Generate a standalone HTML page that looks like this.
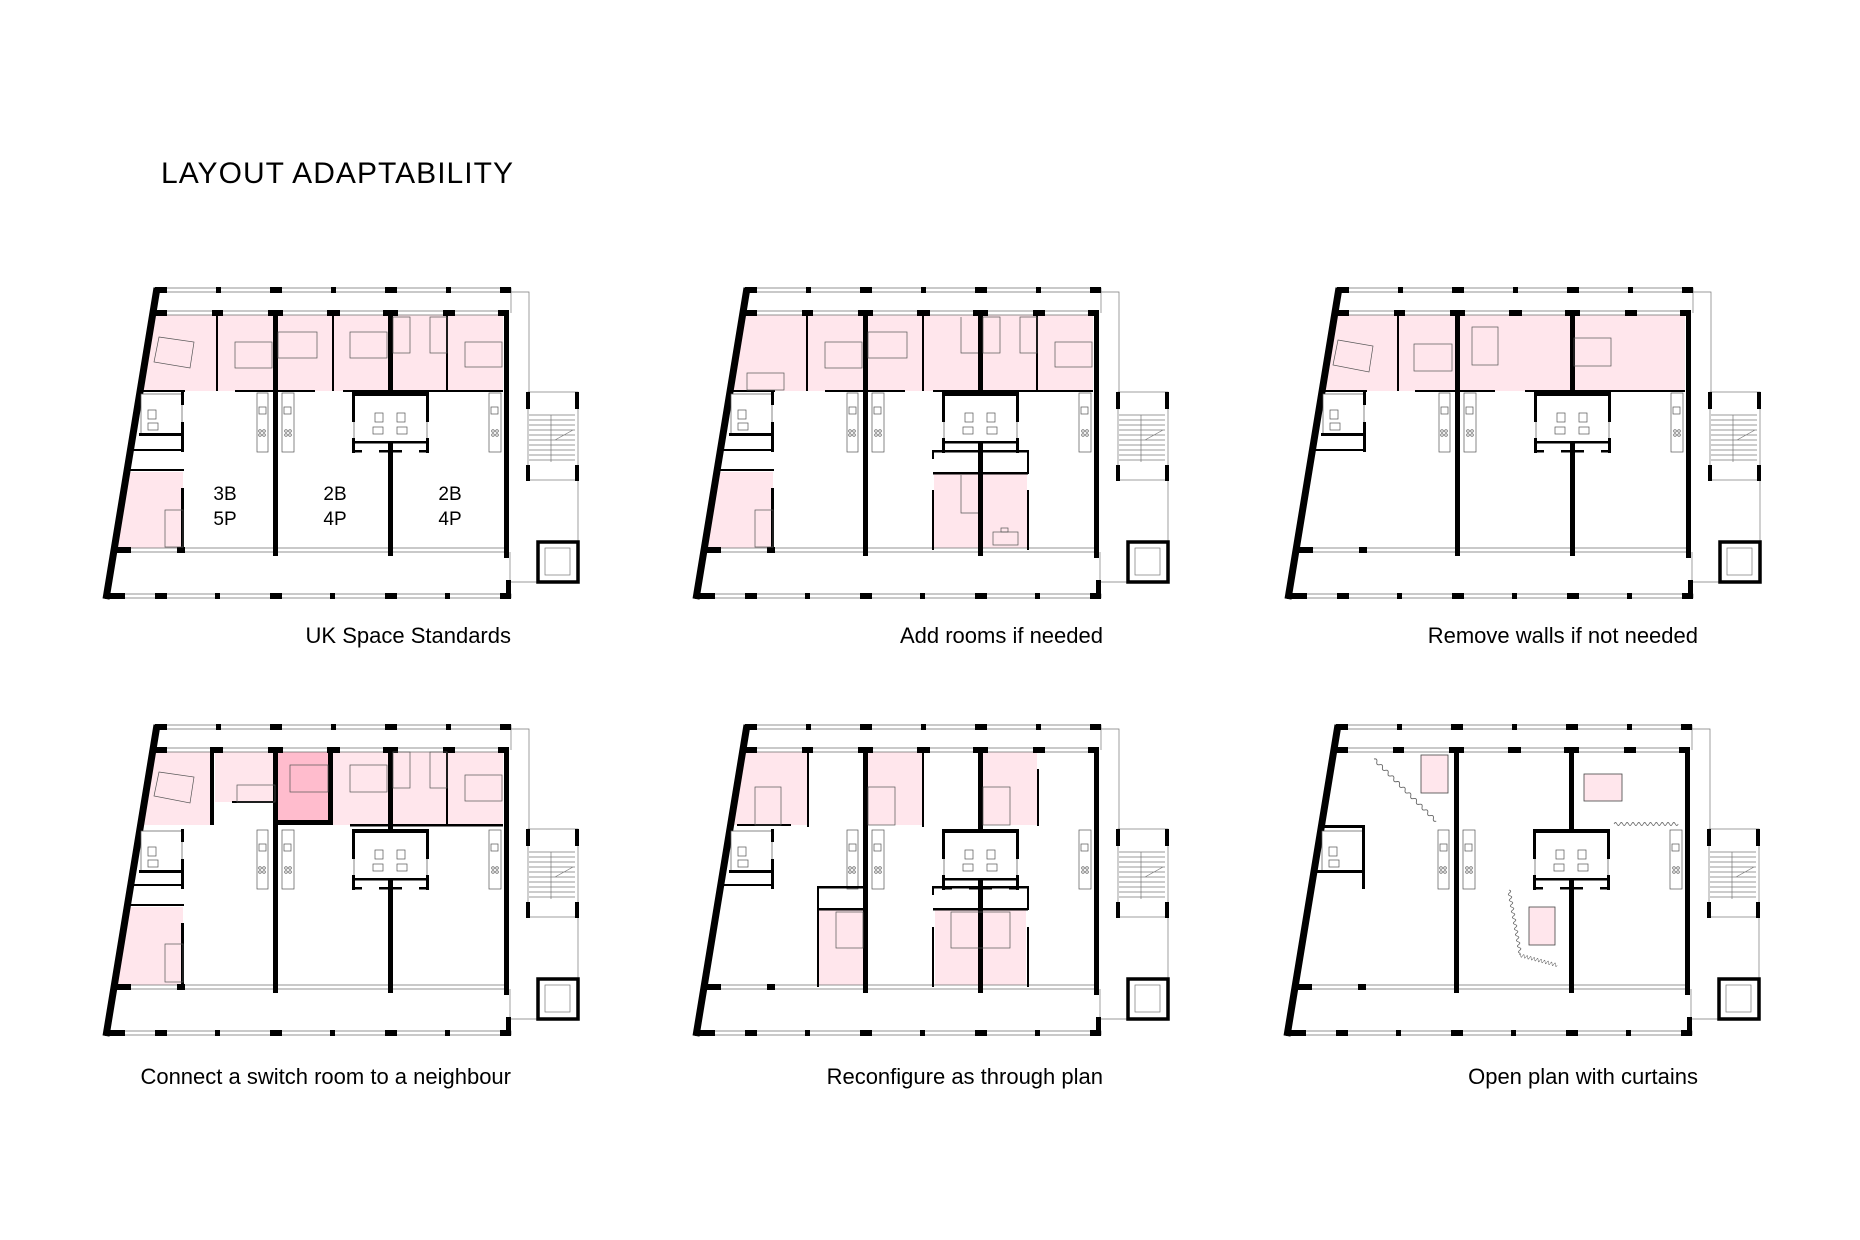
<!DOCTYPE html>
<html><head><meta charset="utf-8"><style>html,body{margin:0;padding:0;background:#fff}svg{display:block}</style></head>
<body>
<svg width="1860" height="1240" viewBox="0 0 1860 1240" xmlns="http://www.w3.org/2000/svg" font-family="Liberation Sans, Arial, sans-serif">
<defs>
<g id="shell">
  <g fill="#fff" stroke="#666" stroke-width="0.7">
    <rect x="62" y="8" width="354" height="4"/>
    <rect x="56" y="31" width="354" height="4"/>
    <rect x="22" y="268" width="389" height="4"/>
    <rect x="12" y="314" width="404" height="4"/>
  </g>
  <g fill="none" stroke="#777" stroke-width="0.7">
    <line x1="416" y1="10" x2="416" y2="33"/>
    <line x1="415" y1="272" x2="415" y2="316"/>
    <polyline points="416,12 434,12 434,112"/>
    <line x1="483" y1="200" x2="483" y2="262"/>
    <line x1="443" y1="302" x2="416" y2="302"/>
    <rect x="433" y="112" width="50" height="88"/>
    <rect x="450" y="268" width="25" height="27"/>
    <line x1="456" y1="135" x2="456" y2="182"/>
    <path d="M434 135H480M434 140H480M434 145H480M434 150H480M434 155H480M434 160H480M434 165H480M434 170H480M434 175H480M434 180H480M460 160L478 150"/>
  </g>
  <g fill="#000">
    <rect x="60" y="7" width="12" height="6"/><rect x="121" y="7" width="5" height="6"/><rect x="175" y="7" width="12" height="6"/><rect x="236" y="7" width="5" height="6"/><rect x="290" y="7" width="12" height="6"/><rect x="351" y="7" width="5" height="6"/><rect x="405" y="7" width="11" height="6"/>
    <rect x="60" y="30" width="12" height="6"/><rect x="117" y="30" width="11" height="6"/><rect x="173" y="30" width="15" height="6"/><rect x="232" y="30" width="13" height="6"/><rect x="288" y="30" width="15" height="6"/><rect x="348" y="30" width="12" height="6"/><rect x="403" y="30" width="10" height="6"/>
    <rect x="22" y="267" width="14" height="6"/><rect x="82" y="267" width="8" height="6"/>
    <rect x="10" y="313" width="20" height="6"/><rect x="60" y="313" width="12" height="6"/><rect x="120" y="313" width="5" height="6"/><rect x="175" y="313" width="12" height="6"/><rect x="235" y="313" width="5" height="6"/><rect x="290" y="313" width="12" height="6"/><rect x="350" y="313" width="5" height="6"/><rect x="405" y="313" width="11" height="6"/>
    <rect x="409" y="30" width="5" height="248"/>
    <rect x="411" y="300" width="5" height="19"/>
    <rect x="178" y="30" width="5" height="246"/>
    <rect x="293" y="30" width="5" height="246"/>
    <rect x="431" y="112" width="4" height="17"/><rect x="431" y="185" width="4" height="16"/>
    <rect x="480" y="112" width="4" height="17"/><rect x="480" y="185" width="4" height="16"/>
  </g>
  <line x1="62" y1="8" x2="11" y2="319" stroke="#000" stroke-width="7"/>
  <rect x="443" y="262" width="40" height="40" fill="none" stroke="#000" stroke-width="3.5"/>
  <g fill="#fff" stroke="#555" stroke-width="0.7">
    <rect x="162" y="113" width="11" height="59"/><rect x="187" y="113" width="12" height="59"/><rect x="394" y="113" width="12" height="59"/>
    <rect x="164" y="127" width="7" height="7"/><rect x="189" y="127" width="7" height="7"/><rect x="396" y="127" width="7" height="7"/>
    <g fill="none"><circle cx="165" cy="151" r="1.3"/><circle cx="169" cy="151" r="1.3"/><circle cx="165" cy="155" r="1.3"/><circle cx="169" cy="155" r="1.3"/>
    <circle cx="191" cy="151" r="1.3"/><circle cx="195" cy="151" r="1.3"/><circle cx="191" cy="155" r="1.3"/><circle cx="195" cy="155" r="1.3"/>
    <circle cx="398" cy="151" r="1.3"/><circle cx="402" cy="151" r="1.3"/><circle cx="398" cy="155" r="1.3"/><circle cx="402" cy="155" r="1.3"/></g>
  </g>
  <g fill="#fff" stroke="#555" stroke-width="0.7">
    <rect x="259" y="114" width="73" height="49"/>
    <rect x="280" y="133" width="8" height="9"/><rect x="278" y="147" width="10" height="7"/>
    <rect x="302" y="133" width="8" height="9"/><rect x="302" y="147" width="10" height="7"/>
  </g>
  <g fill="#000">
    <rect x="257" y="112" width="77" height="4"/>
    <rect x="257" y="112" width="3" height="30"/><rect x="257" y="158" width="3" height="15"/>
    <rect x="331" y="112" width="3" height="30"/><rect x="331" y="158" width="3" height="15"/>
    <rect x="257" y="161" width="77" height="2.5"/>
    <rect x="257" y="170" width="10" height="2.5"/><rect x="284" y="170" width="9" height="2.5"/><rect x="298" y="170" width="9" height="2.5"/><rect x="324" y="170" width="10" height="2.5"/>
  </g>
  <g fill="#fff" stroke="#555" stroke-width="0.7">
    <rect x="46" y="114" width="41" height="40"/>
    <rect x="53" y="130" width="8" height="9"/><rect x="53" y="143" width="10" height="7"/>
  </g>
  <g fill="#000">
    <rect x="44" y="153" width="45" height="3"/>
    <rect x="86" y="112" width="3" height="13"/><rect x="86" y="142" width="3" height="30"/>
  </g>
</g>
<path id="wave" d="M0 0q2 -3 4 0t4 0t4 0t4 0t4 0t4 0t4 0t4 0t4 0t4 0t4 0t4 0t4 0t4 0t4 0t4 0t4 0t4 0t4 0t4 0t4 0t4 0" fill="none" stroke="#666" stroke-width="0.9"/>
</defs>

<text x="161" y="183" font-size="30" textLength="352" fill="#000">LAYOUT ADAPTABILITY</text>

<g transform="translate(95,280)">
  <g fill="#ffe6ec">
    <polygon points="58,35 408,35 408,111 45,111"/>
    <polygon points="32,192 88,192 88,268 19,268"/>
  </g>
  <use href="#shell"/>
  <g fill="#000"><rect x="121" y="35" width="2" height="76"/><rect x="237" y="35" width="2" height="76"/><rect x="351" y="35" width="2" height="76"/>
    <rect x="45" y="110" width="45" height="2"/><rect x="140" y="110" width="80" height="2"/><rect x="248" y="110" width="160" height="2"/>
    <rect x="38" y="169" width="51" height="2"/><rect x="34" y="189" width="55" height="2"/><rect x="86" y="208" width="3" height="62"/></g>
  <g fill="none" stroke="#555" stroke-width="0.7">
    <polygon points="64,57 99,62 95,88 59,82"/><rect x="140" y="62" width="37" height="26"/><rect x="183" y="52" width="39" height="26"/><rect x="255" y="52" width="37" height="26"/>
    <rect x="298" y="37" width="17" height="36"/><rect x="335" y="37" width="17" height="36"/><rect x="370" y="62" width="37" height="25"/><rect x="70" y="230" width="18" height="37"/>
  </g>
  <g font-size="19" text-anchor="middle"><text x="130" y="220">3B</text><text x="130" y="245">5P</text><text x="240" y="220">2B</text><text x="240" y="245">4P</text><text x="355" y="220">2B</text><text x="355" y="245">4P</text></g>
</g>
<text x="511" y="643" font-size="22" text-anchor="end">UK Space Standards</text>

<g transform="translate(685,280)">
  <g fill="#ffe6ec">
    <polygon points="58,35 408,35 408,111 45,111"/>
    <polygon points="32,192 88,192 88,268 19,268"/>
    <rect x="249" y="194" width="93" height="74"/>
  </g>
  <use href="#shell"/>
  <g fill="#000"><rect x="121" y="35" width="2" height="76"/><rect x="237" y="35" width="2" height="76"/><rect x="351" y="35" width="2" height="76"/>
    <rect x="45" y="110" width="45" height="2"/><rect x="140" y="110" width="80" height="2"/><rect x="248" y="110" width="160" height="2"/>
    <rect x="38" y="169" width="51" height="2"/><rect x="34" y="189" width="55" height="2"/><rect x="86" y="208" width="3" height="62"/>
    <rect x="248" y="170" width="95" height="2.5"/><rect x="248" y="192" width="95" height="2.5"/><rect x="247" y="170" width="2" height="9"/><rect x="342" y="170" width="2" height="24"/><rect x="247" y="210" width="2" height="60"/><rect x="342" y="210" width="2" height="60"/></g>
  <g fill="none" stroke="#555" stroke-width="0.7">
    <rect x="62" y="93" width="37" height="17"/><rect x="140" y="62" width="37" height="26"/><rect x="183" y="52" width="39" height="26"/>
    <polyline points="276,37 276,73 293,73"/><rect x="298" y="37" width="17" height="36"/><rect x="335" y="37" width="17" height="36"/><rect x="370" y="62" width="37" height="25"/><rect x="70" y="230" width="18" height="37"/>
    <polyline points="276,195 276,233 293,233"/><rect x="308" y="252" width="25" height="13"/><rect x="316" y="248" width="7" height="4"/>
  </g>
</g>
<text x="1103" y="643" font-size="22" text-anchor="end">Add rooms if needed</text>

<g transform="translate(1277,280)">
  <g fill="#ffe6ec"><polygon points="58,35 408,35 408,111 45,111"/></g>
  <use href="#shell"/>
  <g fill="#000"><rect x="120" y="35" width="2" height="76"/>
    <rect x="45" y="110" width="45" height="2"/><rect x="138" y="110" width="80" height="2"/><rect x="248" y="110" width="160" height="2"/>
    <rect x="38" y="169" width="51" height="2"/></g>
  <g fill="none" stroke="#555" stroke-width="0.7">
    <polygon points="61,60 96,66 92,92 56,85"/><rect x="137" y="64" width="38" height="27"/><rect x="195" y="47" width="26" height="38"/><rect x="297" y="58" width="37" height="28"/>
  </g>
</g>
<text x="1698" y="643" font-size="22" text-anchor="end">Remove walls if not needed</text>

<g transform="translate(95,717)">
  <g fill="#ffe6ec">
    <polygon points="58,35 116,35 116,108 47,108"/>
    <rect x="120" y="35" width="58" height="50"/>
    <rect x="238" y="35" width="170" height="73"/>
    <polygon points="32,190 88,190 88,268 19,268"/>
  </g>
  <rect x="183" y="35" width="50" height="69" fill="#ffbccd"/>
  <use href="#shell"/>
  <g fill="#000"><rect x="115" y="30" width="4" height="78"/><rect x="137" y="84" width="44" height="2"/>
    <rect x="233" y="30" width="5" height="78"/><rect x="178" y="103" width="60" height="5"/><rect x="351" y="35" width="2" height="73"/>
    <rect x="255" y="107" width="153" height="2.5"/>
    <rect x="38" y="167" width="51" height="2"/><rect x="34" y="187" width="55" height="2"/><rect x="86" y="206" width="3" height="62"/></g>
  <g fill="none" stroke="#555" stroke-width="0.7">
    <polygon points="64,55 99,60 95,86 59,79"/><rect x="142" y="68" width="38" height="17"/><rect x="195" y="48" width="38" height="27"/><rect x="255" y="48" width="37" height="27"/>
    <rect x="298" y="35" width="17" height="36"/><rect x="335" y="35" width="17" height="36"/><rect x="370" y="58" width="37" height="26"/><rect x="70" y="227" width="18" height="38"/>
  </g>
</g>
<text x="511" y="1084" font-size="22" text-anchor="end">Connect a switch room to a neighbour</text>

<g transform="translate(685,717)">
  <g fill="#ffe6ec">
    <polygon points="58,35 122,35 122,108 47,108"/>
    <rect x="183" y="35" width="55" height="73"/>
    <rect x="298" y="35" width="54" height="73"/>
    <rect x="134" y="193" width="44" height="75"/>
    <rect x="250" y="193" width="91" height="75"/>
  </g>
  <use href="#shell"/>
  <g fill="#000"><rect x="122" y="33" width="2" height="77"/><rect x="52" y="107" width="54" height="2"/><rect x="237" y="33" width="2" height="77"/><rect x="352" y="52" width="2" height="57"/>
    <rect x="133" y="169" width="46" height="2.5"/><rect x="133" y="191" width="46" height="2.5"/><rect x="132" y="169" width="2" height="101"/>
    <rect x="248" y="169" width="95" height="2.5"/><rect x="248" y="191" width="95" height="2.5"/><rect x="247" y="169" width="2" height="9"/><rect x="342" y="169" width="2" height="24"/><rect x="247" y="210" width="2" height="60"/><rect x="342" y="210" width="2" height="60"/>
    <rect x="38" y="167" width="51" height="2"/></g>
  <g fill="none" stroke="#555" stroke-width="0.7">
    <rect x="70" y="70" width="26" height="38"/><rect x="183" y="70" width="27" height="38"/><rect x="298" y="70" width="27" height="38"/>
    <rect x="151" y="195" width="27" height="36"/><rect x="266" y="195" width="59" height="36"/>
  </g>
</g>
<text x="1103" y="1084" font-size="22" text-anchor="end">Reconfigure as through plan</text>

<g transform="translate(1276,717)">
  <use href="#shell"/>
  <g fill="#000"><rect x="44" y="108" width="44" height="3"/><rect x="86" y="108" width="3" height="60"/><rect x="38" y="153" width="51" height="3"/></g>
  <g fill="#ffe6ec" stroke="#444" stroke-width="0.8">
    <rect x="145" y="38" width="27" height="38"/><rect x="308" y="57" width="38" height="27"/><rect x="253" y="190" width="26" height="38"/>
  </g>
  <use href="#wave" transform="translate(98,42) rotate(45)"/>
  <use href="#wave" transform="translate(338,107) scale(0.73,1)"/>
  <use href="#wave" transform="translate(233,173) rotate(80) scale(0.73,1)"/>
  <use href="#wave" transform="translate(243,238) rotate(15) scale(0.45,1)"/>
</g>
<text x="1698" y="1084" font-size="22" text-anchor="end">Open plan with curtains</text>
</svg>
</body></html>
